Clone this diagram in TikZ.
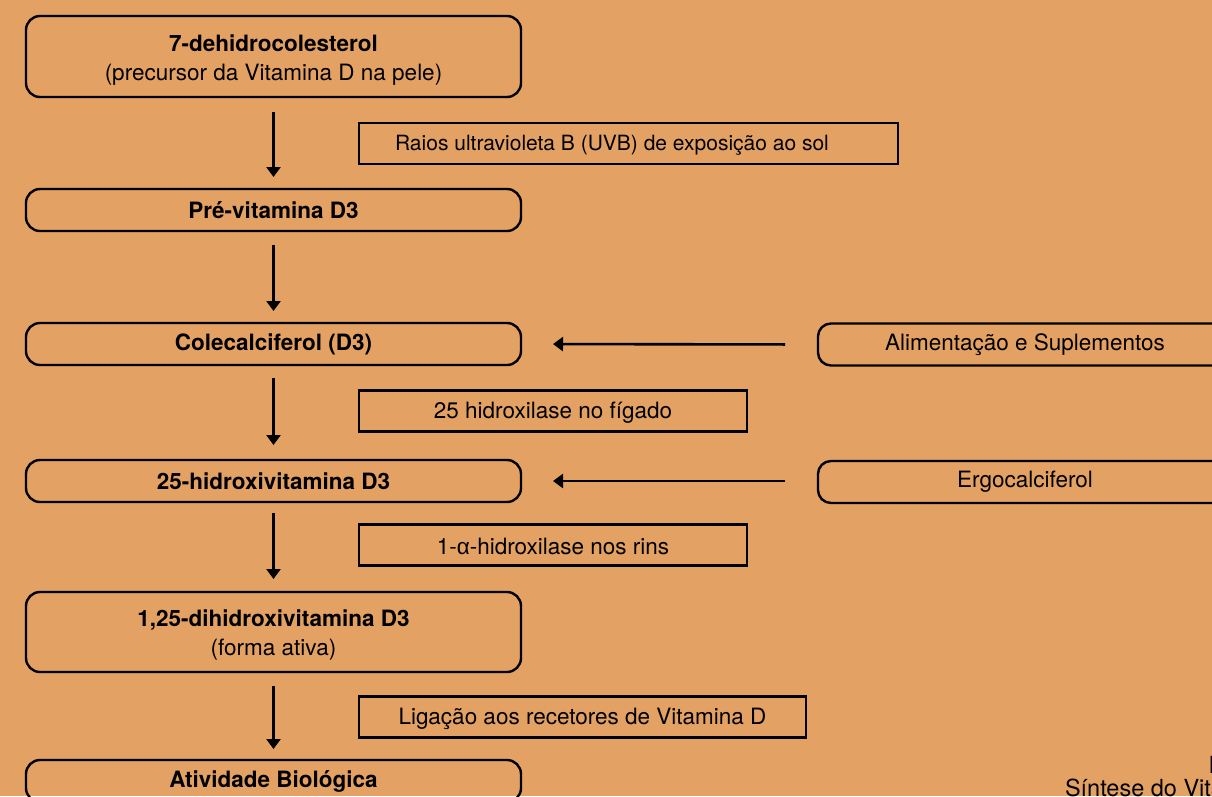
\documentclass[tikz,border=0pt]{standalone}
\usepackage{fontspec}
\setmainfont{TeX Gyre Heros}
\newfontfamily\greekfont{Liberation Sans}
\usetikzlibrary{arrows.meta}
\definecolor{bgorange}{RGB}{227,161,99}
% push a text down inside its box by half of the extra height #1
\newcommand{\lowered}[2]{\raisebox{0pt}[\dimexpr\height+#1\relax]{#2}}
\newcommand{\twolines}[2]{\lowered{7pt}{\begin{tabular}{@{}c@{}}#1\\#2\end{tabular}}}
\begin{document}
\begin{tikzpicture}[x=1pt,y=-1pt,
  every node/.style={inner sep=0pt, outer sep=0pt, font=\fontsize{22.5}{29}\selectfont, text=black},
  stagebox/.style={draw=black, line width=2.4pt, rounded corners=14pt, minimum width=495pt},
  enzymebox/.style={draw=black, line width=2.4pt, minimum height=41pt},
  sourcebox/.style={draw=black, line width=2.4pt, rounded corners=13pt, minimum width=414pt, minimum height=42pt},
  flow/.style={draw=black, line width=2.6pt, -{Triangle[width=14pt,length=10pt]}},
  caption/.style={anchor=base west, font=\fontsize{23.5}{28}\selectfont}
]
% canvas
\fill[bgorange] (0,0) rectangle (1212,796);
\clip (0,0) rectangle (1212,796);
\useasboundingbox (0,0) rectangle (1212,796);

% main pathway (left column)
\node[stagebox, minimum height=81pt] (b1) at (273.5,56.5)
  {\twolines{\textbf{7-dehidrocolesterol}}{(precursor da Vitamina D na pele)}};
\node[stagebox, minimum height=42pt] (b2) at (273.5,210) {\textbf{Pré-vitamina D3}};
\node[stagebox, minimum height=42pt] (b3) at (273.5,344) {\textbf{Colecalciferol (D3)}};
\node[stagebox, minimum height=42pt] (b4) at (273.5,481) {\textbf{25-hidroxivitamina D3}};
\node[stagebox, minimum height=80pt] (b5) at (273.5,632)
  {\twolines{\textbf{1,25-dihidroxivitamina D3}}{(forma ativa)}};
\node[stagebox, minimum height=42pt] (b6) at (273.5,781) {\textbf{Atividade Biológica}};

% step labels
\node[enzymebox, minimum width=539pt, font=\fontsize{21}{26}\selectfont] (l1) at (628.5,143.5)
  {\lowered{4pt}{Raios ultravioleta B (UVB) de exposição ao sol}\hspace*{33pt}};
\node[enzymebox, minimum width=388pt] (l2) at (553,411) {\lowered{3pt}{25 hidroxilase no fígado}};
\node[enzymebox, minimum width=388pt] (l3) at (553,545) {\lowered{3pt}{1-{\greekfont α}-hidroxilase nos rins}};
\node[enzymebox, minimum width=447pt] (l4) at (582.5,717) {\lowered{3pt}{Ligação aos recetores de Vitamina D}};

% external sources
\node[sourcebox] (r1) at (1025,344.5) {Alimentação e Suplementos};
\node[sourcebox] (r2) at (1025,482) {Ergocalciferol};

% vertical flow
\draw[flow, shorten <=15pt, shorten >=12pt] (b1.south) -- (b2.north);
\draw[flow, shorten <=14pt, shorten >=12pt] (b2.south) -- (b3.north);
\draw[flow, shorten <=13pt, shorten >=15pt] (b3.south) -- (b4.north);
\draw[flow, shorten <=11pt, shorten >=13pt] (b4.south) -- (b5.north);
\draw[flow, shorten <=14pt, shorten >=11pt] (b5.south) -- (b6.north);

% inputs from the right
\draw[flow, shorten <=33pt, shorten >=32pt] (r1.west) -- (b3.east);
\draw[flow, shorten <=33pt, shorten >=32pt] (r2.west |- b4.east) -- (b4.east);

% caption
\node[caption] (capa) at (1208.5,773) {Figura};
\node[caption] (capb) at (1065,796) {Síntese do Vitamina D};
\end{tikzpicture}
\end{document}
